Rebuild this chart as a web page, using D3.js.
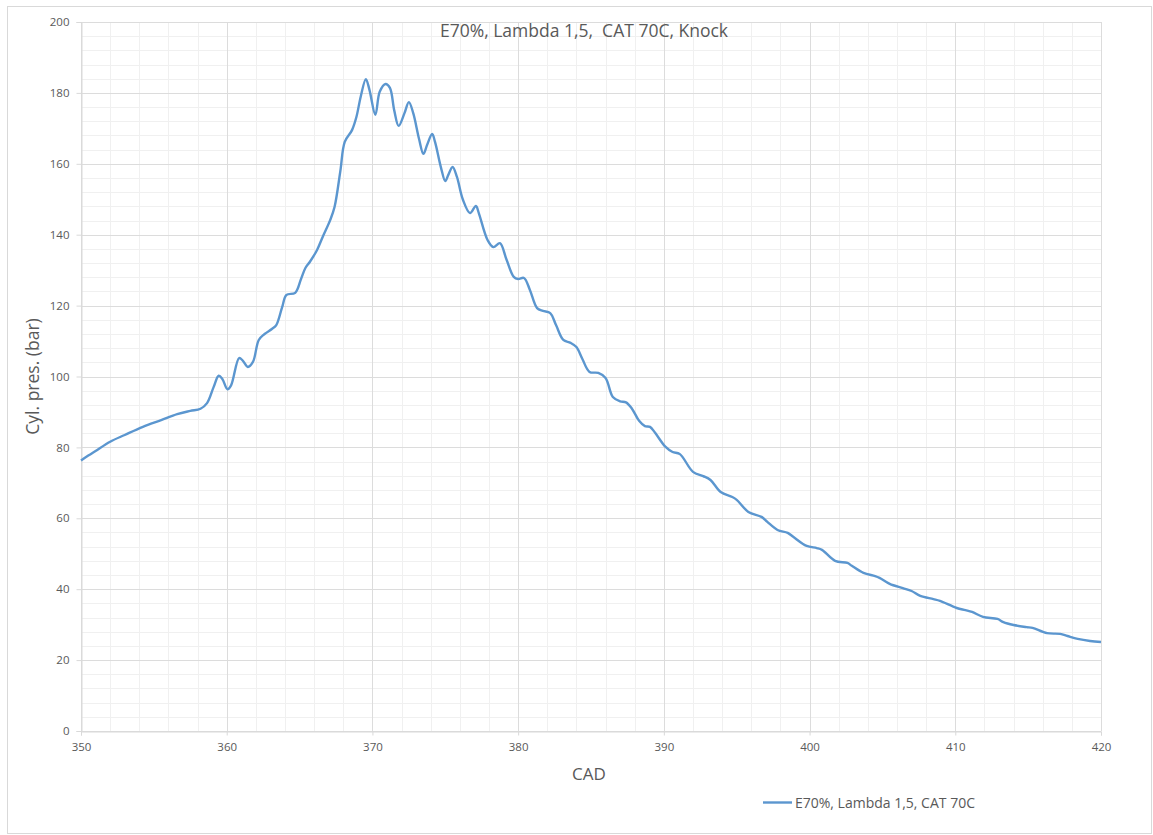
<!DOCTYPE html>
<html>
<head>
<meta charset="utf-8">
<script src="https://cdn.jsdelivr.net/npm/d3@7"></script>
<style>
  body { margin: 0; background: #fff; }
  text { font-family: "Open Sans", sans-serif; fill: #595959; }
</style>
</head>
<body>
<svg id="chart" width="1153" height="835"></svg>
<script>
// Crank angle (deg) and cylinder pressure (bar)
const cad = [
  350.0, 350.5, 351.0, 352.0, 353.0, 354.25, 355.5, 356.6, 357.5, 358.2,
  358.65, 359.1, 359.45, 359.7, 360.05, 360.3, 360.85, 361.1, 361.45, 361.8,
  362.2, 362.6, 363.1, 363.4, 363.8, 364.1, 364.7, 365.1, 365.4, 365.7,
  366.2, 366.6, 367.1, 367.4, 367.8, 368.1, 368.6, 368.9, 369.2, 369.55,
  369.8, 370.2, 370.5, 370.9, 371.2, 371.5, 371.8, 372.2, 372.5, 372.8,
  373.2, 373.5, 373.75, 374.1, 374.3, 374.7, 375.0, 375.2, 375.5, 375.8,
  376.2, 376.7, 377.1, 377.3, 377.9, 378.3, 378.75, 379.2, 379.7, 380.0,
  380.4, 380.8, 381.3, 381.7, 382.2, 382.6, 383.1, 383.6, 384.0, 384.4,
  384.9, 385.5, 386.0, 386.5, 387.0, 387.4, 387.8, 388.3, 388.7, 389.05,
  389.4, 390.1, 390.6, 391.1, 392.0, 392.7, 393.2, 393.9, 394.7, 395.0,
  395.8, 396.7, 397.1, 397.8, 398.5, 398.9, 399.8, 400.5, 400.85, 401.75,
  402.6, 402.9, 403.7, 404.5, 404.8, 405.5, 406.4, 407.0, 407.6, 408.5,
  408.95, 410.1, 410.7, 411.15, 411.9, 412.9, 413.3, 414.0, 414.9, 415.3,
  416.3, 417.2, 417.7, 418.4, 419.25, 420.0
];
const pressure = [
  76.3, 77.7, 79.0, 81.6, 83.5, 85.8, 87.7, 89.4, 90.3, 90.9,
  92.5, 97.0, 100.2, 99.3, 96.4, 97.5, 105.2, 104.5, 102.7, 104.1,
  110.3, 112.0, 113.4, 114.5, 119.5, 123.0, 123.6, 127.5, 130.6, 132.3,
  135.7, 139.5, 144.1, 147.8, 158.0, 166.2, 169.5, 173.2, 179.0, 183.9,
  180.8, 173.8, 180.3, 182.5, 181.4, 175.0, 170.7, 174.3, 177.4, 174.3,
  167.0, 162.8, 165.3, 168.4, 166.1, 159.0, 155.1, 156.8, 159.1, 156.3,
  150.0, 146.1, 148.1, 146.1, 138.5, 136.5, 137.6, 133.0, 128.1, 127.5,
  127.8, 124.5, 119.3, 118.5, 117.9, 114.5, 110.3, 109.5, 108.3, 105.0,
  101.3, 101.0, 99.6, 94.2, 93.0, 92.7, 91.0, 87.5, 86.0, 85.8,
  84.1, 80.2, 78.7, 78.1, 73.1, 71.9, 70.8, 67.4, 66.0, 65.2,
  61.8, 60.4, 59.0, 56.7, 55.9, 54.7, 52.2, 51.6, 51.1, 48.0,
  47.4, 46.6, 44.6, 43.7, 43.2, 41.5, 40.3, 39.5, 38.1, 37.2,
  36.7, 34.7, 34.1, 33.6, 32.2, 31.6, 30.7, 29.9, 29.3, 29.1,
  27.6, 27.4, 26.8, 26.0, 25.4, 25.1
];

const xTicks = [350, 360, 370, 380, 390, 400, 410, 420];
const yTicks = [0, 20, 40, 60, 80, 100, 120, 140, 160, 180, 200];
const xMinor = d3.range(350, 421, 2);
const yMinor = d3.range(0, 201, 4);

const chartTitle = "E70%, Lambda 1,5,  CAT 70C, Knock";
const seriesName = "E70%, Lambda 1,5, CAT 70C";
const xTitle = "CAD";
const yTitle = "Cyl. pres. (bar)";

const svg = d3.select("#chart");
const lineColor = "#5b96cf";

// outer chart frame
svg.append("rect")
  .attr("x", 7.5).attr("y", 6.5)
  .attr("width", 1144).attr("height", 827)
  .attr("fill", "#fff").attr("stroke", "#d9d9d9");

const x = d3.scaleLinear().domain([350, 420]).range([81, 1101]);
const y = d3.scaleLinear().domain([0, 200]).range([731, 22]);

// minor gridlines
const grid = svg.append("g");
grid.selectAll(".vmin").data(xMinor).join("line")
  .attr("x1", d => Math.round(x(d)) + 0.5).attr("x2", d => Math.round(x(d)) + 0.5)
  .attr("y1", y(200)).attr("y2", y(0))
  .attr("stroke", "#f0f0f0");
grid.selectAll(".hmin").data(yMinor).join("line")
  .attr("y1", d => Math.round(y(d)) + 0.5).attr("y2", d => Math.round(y(d)) + 0.5)
  .attr("x1", x(350)).attr("x2", x(420))
  .attr("stroke", "#f0f0f0");

// major gridlines
grid.selectAll(".vmaj").data(xTicks).join("line")
  .attr("x1", d => Math.round(x(d)) + 0.5).attr("x2", d => Math.round(x(d)) + 0.5)
  .attr("y1", y(200)).attr("y2", y(0))
  .attr("stroke", "#dcdcdc");
grid.selectAll(".hmaj").data(yTicks).join("line")
  .attr("y1", d => Math.round(y(d)) + 0.5).attr("y2", d => Math.round(y(d)) + 0.5)
  .attr("x1", x(350)).attr("x2", x(420))
  .attr("stroke", "#dcdcdc");

// axes
const xAxis = svg.append("g")
  .attr("transform", `translate(0,${Math.round(y(0)) + 0.5})`)
  .call(d3.axisBottom(x).tickValues(xTicks).tickSize(4).tickPadding(7).tickFormat(d3.format("d")));
const yAxis = svg.append("g")
  .attr("transform", `translate(${Math.round(x(350)) + 0.5},0)`)
  .call(d3.axisLeft(y).tickValues(yTicks).tickSize(5).tickPadding(7).tickFormat(d3.format("d")));
[xAxis, yAxis].forEach(a => {
  a.select(".domain").attr("stroke", "#d9d9d9");
  a.selectAll(".tick line").attr("stroke", "#d9d9d9");
  a.selectAll(".tick text").attr("font-size", 11.5).attr("font-family", "Open Sans, sans-serif").attr("fill", "#595959");
});

// pressure trace
const line = d3.line()
  .x((d, i) => x(cad[i]))
  .y(d => y(d))
  .curve(d3.curveCatmullRom.alpha(0.5));
svg.append("path")
  .datum(pressure)
  .attr("d", line)
  .attr("fill", "none")
  .attr("stroke", lineColor)
  .attr("stroke-width", 2.4)
  .attr("stroke-linejoin", "round");

// titles
svg.append("text")
  .attr("x", 584).attr("y", 37)
  .attr("text-anchor", "middle")
  .attr("font-size", 17.5)
  .style("white-space", "pre")
  .text(chartTitle);
svg.append("text")
  .attr("x", 589).attr("y", 780)
  .attr("text-anchor", "middle")
  .attr("font-size", 17)
  .text(xTitle);
svg.append("text")
  .attr("transform", `translate(39,${(y(0) + y(200)) / 2}) rotate(-90)`)
  .attr("text-anchor", "middle")
  .attr("font-size", 17.5)
  .text(yTitle);

// legend
const lg = svg.append("g");
lg.append("line")
  .attr("x1", 763).attr("x2", 792)
  .attr("y1", 802.5).attr("y2", 802.5)
  .attr("stroke", lineColor).attr("stroke-width", 2.4);
lg.append("text")
  .attr("x", 795).attr("y", 807.5)
  .attr("font-size", 14)
  .text(seriesName);
</script>
</body>
</html>
